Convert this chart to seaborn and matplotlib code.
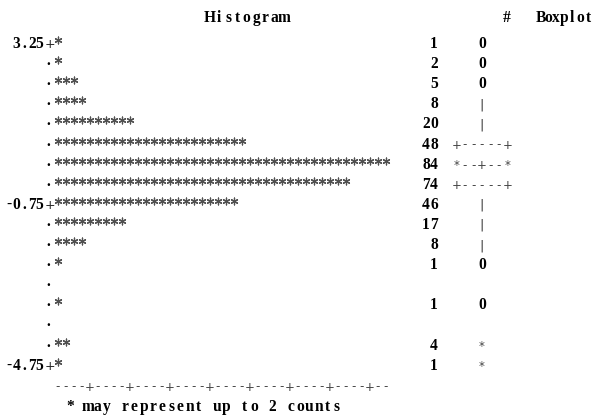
import math

import matplotlib
matplotlib.use("Agg")
import matplotlib.pyplot as plt
import matplotlib.transforms as mtransforms
import pandas as pd
import seaborn as sns

# Bin midpoints (top to bottom), frequencies and the boxplot column
bin_mids = [3.25, 2.75, 2.25, 1.75, 1.25, 0.75, 0.25, -0.25, -0.75,
            -1.25, -1.75, -2.25, -2.75, -3.25, -3.75, -4.25, -4.75]
counts = [1, 2, 5, 8, 20, 48, 84, 74, 46, 17, 8, 1, 0, 1, 0, 4, 1]
box_glyphs = ["0", "0", "0", "|", "|", "+-----+", "*--+--*", "+-----+",
              "|", "|", "|", "0", "", "0", "", "*", "*"]
tick_mids = [3.25, -0.75, -4.75]
tick_labels = ["3.25", "-0.75", "-4.75"]
counts_per_star = 2

title = "Histogram"
count_header = "#"
box_header = "Boxplot"
footnote = f"* may represent up to {counts_per_star} counts"

# one asterisk per started group of `counts_per_star` observations
n_stars = [math.ceil(c / counts_per_star) for c in counts]
stars = pd.DataFrame(
    [(col, mid) for mid, n in zip(bin_mids, n_stars) for col in range(n)],
    columns=["col", "mid"],
)

W, H = 597, 415
sns.set_theme(style="white")
fig = plt.figure(figsize=(W / 100, H / 100), dpi=100)
ax = fig.add_axes([0, 0, 1, 1])

# character column -> pixels: 58 + 8*col ; bin value -> pixels: 40 + 40.2*(3.25 - v)
ax.set_xlim(-58 / 8, (W - 58) / 8)
ax.set_ylim(bin_mids[0] - (H - 40) / 40.2, bin_mids[0] + 40 / 40.2)
ax.axis("off")

sns.scatterplot(data=stars, x="col", y="mid", marker=(6, 2, 0), s=24,
                color="#505050", linewidth=0.9, ax=ax, legend=False)

BOLD = dict(family="Liberation Serif", weight="bold", fontsize=11.2, color="black")
THIN = dict(family="DejaVu Sans", fontsize=8.5, color="#444444")


def put_fixed(x0, ybase, text, pitch, **style):
    """Draw a string one character per cell at a fixed pitch (pixels)."""
    for i, ch in enumerate(text):
        if ch != " ":
            fig.text((x0 + i * pitch) / W, 1 - ybase / H, ch,
                     ha="center", va="baseline", **style)


# headers and footnote
put_fixed(209.5, 22, title, 9.3, **BOLD)
put_fixed(506.7, 22, count_header, 8.0, **BOLD)
put_fixed(540.5, 22, box_header, 7.9, **BOLD)
put_fixed(70, 411, footnote, 9.2, **BOLD)

# text rows sit on a baseline 8 px below the asterisk centres
row_tr = mtransforms.offset_copy(ax.get_yaxis_transform(), fig=fig,
                                 x=0, y=-8, units="dots")
dot_tr = mtransforms.offset_copy(ax.get_yaxis_transform(), fig=fig,
                                 x=0, y=-5, units="dots")


def put_row(xc_px, mid, ch, tr=row_tr, **style):
    ax.text(xc_px / W, mid, ch, transform=tr, ha="center", va="baseline", **style)


# vertical axis: labels with "+" at ticks, "." elsewhere
for mid in bin_mids:
    if mid in tick_mids:
        label = tick_labels[tick_mids.index(mid)]
        put_row(50, mid, "+", **dict(THIN, color="#222222", fontsize=9))
        for i, ch in enumerate(reversed(label)):
            put_row(39.5 - i * 7.7, mid, ch, **BOLD)
    else:
        put_row(48, mid, ".", tr=dot_tr, **BOLD)

# frequency column (right aligned) and boxplot column (centred)
for mid, c, glyph in zip(bin_mids, counts, box_glyphs):
    if c > 0:
        for i, ch in enumerate(reversed(str(c))):
            put_row(434 - i * 8, mid, ch, **BOLD)
    n = len(glyph)
    for i, ch in enumerate(glyph):
        xc = 482 + (i - (n - 1) / 2) * 8.5
        if ch == "0":
            put_row(xc, mid, ch, **BOLD)
        elif ch == "|":
            put_row(xc, mid, ch, **dict(THIN, fontsize=9.5))
        else:
            put_row(xc, mid, ch, **THIN)

# horizontal count axis below the bars
axis_y = 1 - 387 / H
for col in range(max(n_stars)):
    ch = "+" if (col + 1) % 5 == 0 else "-"
    ax.text(col, axis_y, ch, transform=ax.get_xaxis_transform(),
            ha="center", va="center", **THIN)

fig.savefig("out.png", dpi=100)
